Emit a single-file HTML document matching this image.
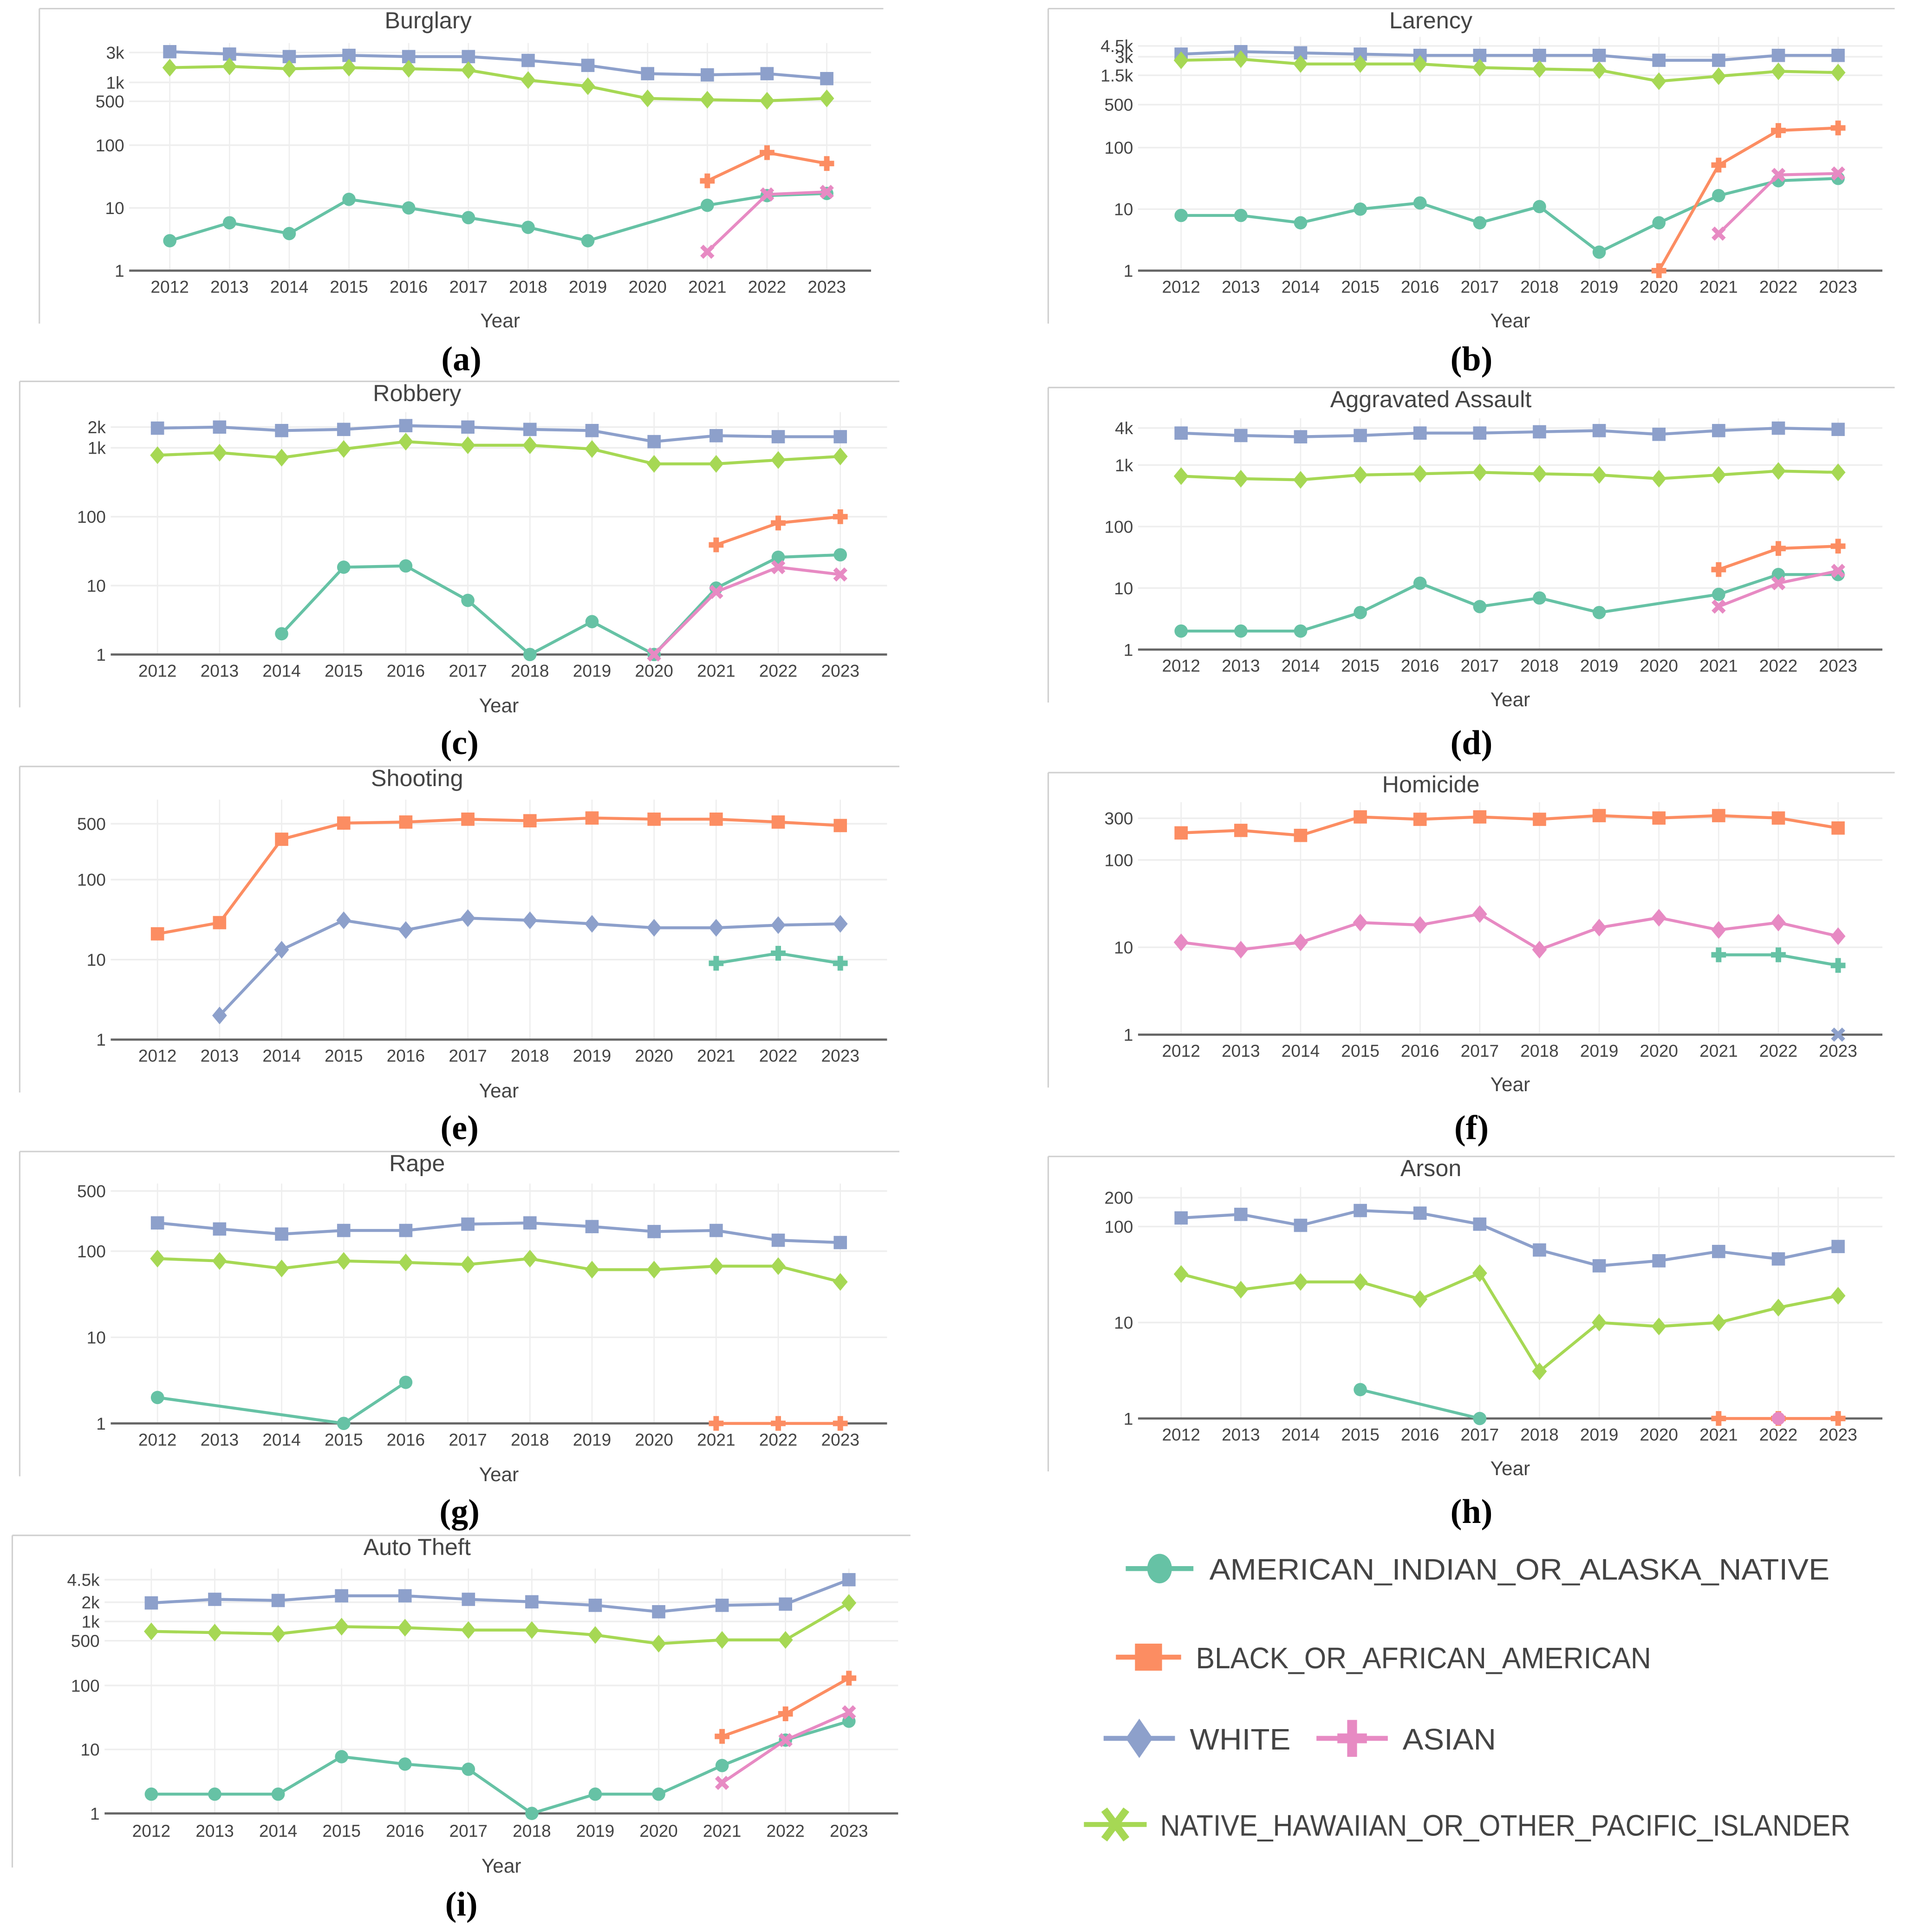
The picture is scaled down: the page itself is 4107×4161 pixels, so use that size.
<!DOCTYPE html>
<html><head><meta charset="utf-8">
<style>
html,body{margin:0;padding:0;background:#fff;}
svg{display:block;}
text{font-family:"Liberation Sans",sans-serif;}
</style></head>
<body>
<svg id="root" width="4107" height="4161" viewBox="0 0 1550 1570.4" preserveAspectRatio="none" xmlns="http://www.w3.org/2000/svg"></svg>
<script>
const years = [2012,2013,2014,2015,2016,2017,2018,2019,2020,2021,2022,2023];
const C = {aian:'#66c2a5', black:'#fc8d62', white:'#8da0cb', asian:'#e78ac3', nhopi:'#a6d854'};
const n = null;
// Burglary
const burglaryWhite = [3090,2830,2580,2700,2580,2580,2240,1870,1380,1320,1380,1150];
const burglaryNhopi = [1720,1800,1650,1720,1650,1570,1090,870,556,530,510,556];
const burglaryAian = [3,5.8,3.9,13.7,10,7,4.9,3,n,11,15.7,17];
const burglaryBlack = [n,n,n,n,n,n,n,n,n,27,76,51];
const burglaryAsian = [n,n,n,n,n,n,n,n,n,2,16.4,18];
// Larceny
const larcenyWhite = [3310,3630,3470,3310,3160,3160,3160,3160,2630,2630,3160,3160];
const larcenyNhopi = [2630,2750,2290,2290,2290,2000,1900,1820,1200,1450,1740,1660];
const larcenyAian = [7.9,7.9,6,10,12.6,6,11,2,6,16.6,29,31.6];
const larcenyBlack = [n,n,n,n,n,n,n,n,1,52,190,209];
const larcenyAsian = [n,n,n,n,n,n,n,n,n,4,36,38];
// Robbery
const robberyWhite = [1930,2000,1780,1850,2100,2000,1850,1780,1230,1500,1450,1450];
const robberyNhopi = [780,850,720,960,1230,1090,1090,960,585,585,665,750];
const robberyAian = [n,n,2,18.5,19.3,6.1,1,3,1,9.2,25.8,28];
const robberyBlack = [n,n,n,n,n,n,n,n,n,39,81,100];
const robberyAsian = [n,n,n,n,n,n,n,n,1,8.1,18.5,14.5];
// Aggravated assault
const assaultWhite = [3310,3020,2880,3020,3310,3310,3470,3630,3160,3630,3980,3800];
const assaultNhopi = [660,600,575,690,720,760,720,690,600,690,800,760];
const assaultAian = [2,2,2,4,12,5,6.9,4,n,7.9,16.6,16.6];
const assaultBlack = [n,n,n,n,n,n,n,n,n,20,44,48];
const assaultAsian = [n,n,n,n,n,n,n,n,n,5,12,19];
// Shooting
const shootingBlack = [21,29,320,510,525,570,545,590,570,570,525,475];
const shootingWhite = [n,2,13.3,31,23.4,33,31,28,25,25,27,28];
const shootingAian = [n,n,n,n,n,n,n,n,n,9,12,9];
// Homicide
const homicideBlack = [204,218,191,311,292,311,292,322,302,322,302,232];
const homicideAsian = [11.4,9.4,11.4,19.2,18,24,9.4,16.8,21.8,15.8,19.2,13.4];
const homicideAian = [n,n,n,n,n,n,n,n,n,8.2,8.2,6.2];
const homicideWhite = [n,n,n,n,n,n,n,n,n,n,n,1];
// Rape
const rapeWhite = [213,181,158,174,174,206,213,193,169,174,134,126];
const rapeNhopi = [82,77,63,77,74,70,82,61,61,67,67,44];
const rapeAian = [2,n,n,1,3,n,n,n,n,n,n,n];
const rapeBlack = [n,n,n,n,n,n,n,n,n,1,1,1];
// Arson
const arsonWhite = [123,134,103,147,138,106,57,39,44,55,46,62];
const arsonNhopi = [32,22,26.5,26.5,17.5,32.7,3.1,10,9.1,10,14.3,19];
const arsonAian = [n,n,n,2,n,1,n,n,n,n,n,n];
const arsonBlack = [n,n,n,n,n,n,n,n,n,1,1,1];
const arsonAsian = [n,n,n,n,n,n,n,n,n,n,1,n];
// Auto theft
const autoWhite = [1950,2220,2130,2520,2520,2220,2030,1790,1420,1790,1870,4500];
const autoNhopi = [700,670,640,830,800,735,735,615,450,515,515,1950];
const autoAian = [2,2,2,7.7,5.9,4.9,1,2,2,5.6,14,27.6];
const autoBlack = [n,n,n,n,n,n,n,n,n,16,36,130];
const autoAsian = [n,n,n,n,n,n,n,n,n,3,14,38];

const tickA = ['1','10','100','500','1k','3k'], tickAv=[1,10,100,500,1000,3000];
const tickB = ['1','10','100','500','1.5k','3k','4.5k'], tickBv=[1,10,100,500,1500,3000,4500];
const tickC = ['1','10','100','1k','2k'], tickCv=[1,10,100,1000,2000];
const tickD = ['1','10','100','1k','4k'], tickDv=[1,10,100,1000,4000];
const tickE = ['1','10','100','500'], tickEv=[1,10,100,500];
const tickF = ['1','10','100','300'], tickFv=[1,10,100,300];
const tickG = ['1','10','100','500'], tickGv=[1,10,100,500];
const tickH = ['1','10','100','200'], tickHv=[1,10,100,200];
const tickI = ['1','10','100','500','1k','2k','4.5k'], tickIv=[1,10,100,500,1000,2000,4500];

const panels = [
 {id:'burglary',title:'Burglary',tx:348,lab:'(a)',box:[32,718,7],ax:[105,708],x0:138,x1:672,y1:220,dec:51,top:35,tick:233,year:260,labY:292,tl:tickA,tv:tickAv,
  series:[[burglaryWhite,'white','square'],[burglaryNhopi,'nhopi','diamond'],[burglaryAian,'aian','circle'],[burglaryBlack,'black','cross'],[burglaryAsian,'asian','x']]},
 {id:'larceny',title:'Larency',tx:1163,lab:'(b)',box:[852,1540,7],ax:[925,1530],x0:960,x1:1494,y1:220,dec:50,top:30,tick:233,year:260,labY:292,tl:tickB,tv:tickBv,
  series:[[larcenyWhite,'white','square'],[larcenyNhopi,'nhopi','diamond'],[larcenyAian,'aian','circle'],[larcenyBlack,'black','cross'],[larcenyAsian,'asian','x']]},
 {id:'robbery',title:'Robbery',tx:339,lab:'(c)',box:[16,731,310],ax:[90,721],x0:128,x1:683,y1:532,dec:56,top:335,tick:545,year:573,labY:604,tl:tickC,tv:tickCv,
  series:[[robberyWhite,'white','square'],[robberyNhopi,'nhopi','diamond'],[robberyAian,'aian','circle'],[robberyBlack,'black','cross'],[robberyAsian,'asian','x']]},
 {id:'aggravated-assault',title:'Aggravated Assault',tx:1163,lab:'(d)',box:[852,1540,315],ax:[925,1530],x0:960,x1:1494,y1:528,dec:50,top:340,tick:541,year:568,labY:604,tl:tickD,tv:tickDv,
  series:[[assaultWhite,'white','square'],[assaultNhopi,'nhopi','diamond'],[assaultAian,'aian','circle'],[assaultBlack,'black','cross'],[assaultAsian,'asian','x']]},
 {id:'shooting',title:'Shooting',tx:339,lab:'(e)',box:[16,731,623],ax:[90,721],x0:128,x1:683,y1:845,dec:65,top:650,tick:858,year:886,labY:917,tl:tickE,tv:tickEv,
  series:[[shootingBlack,'black','square'],[shootingWhite,'white','diamond'],[shootingAian,'aian','cross']]},
 {id:'homicide',title:'Homicide',tx:1163,lab:'(f)',box:[852,1540,628],ax:[925,1530],x0:960,x1:1494,y1:841,dec:71,top:652,tick:854,year:881,labY:917,tl:tickF,tv:tickFv,
  series:[[homicideBlack,'black','square'],[homicideAsian,'asian','diamond'],[homicideAian,'aian','cross'],[homicideWhite,'white','x']]},
 {id:'rape',title:'Rape',tx:339,lab:'(g)',box:[16,731,936],ax:[90,721],x0:128,x1:683,y1:1157,dec:70,top:962,tick:1170,year:1198,labY:1229,tl:tickG,tv:tickGv,
  series:[[rapeWhite,'white','square'],[rapeNhopi,'nhopi','diamond'],[rapeAian,'aian','circle'],[rapeBlack,'black','cross']]},
 {id:'arson',title:'Arson',tx:1163,lab:'(h)',box:[852,1540,940],ax:[925,1530],x0:960,x1:1494,y1:1153,dec:78,top:965,tick:1166,year:1193,labY:1229,tl:tickH,tv:tickHv,
  series:[[arsonWhite,'white','square'],[arsonNhopi,'nhopi','diamond'],[arsonAian,'aian','circle'],[arsonBlack,'black','cross'],[arsonAsian,'asian','circle']]},
 {id:'auto-theft',title:'Auto Theft',tx:339,lab:'(i)',box:[10,740,1248],ax:[85,730],x0:123,x1:690,y1:1474,dec:52,top:1275,tick:1488,year:1516,labY:1548,tl:tickI,tv:tickIv,
  series:[[autoWhite,'white','square'],[autoNhopi,'nhopi','diamond'],[autoAian,'aian','circle'],[autoBlack,'black','cross'],[autoAsian,'asian','x']]}
];

const NS='http://www.w3.org/2000/svg';
const root=document.getElementById('root');
function mk(tag,attrs,parent,txt){const e=document.createElementNS(NS,tag);for(const k in attrs)e.setAttribute(k,attrs[k]);if(txt!=null)e.textContent=txt;parent.appendChild(e);return e;}

function marker(g,type,x,y,col,r){
  let e;
  if(type==='circle') e=mk('circle',{cx:x,cy:y,r:r*0.9,fill:col},g);
  else if(type==='square') e=mk('rect',{x:x-r*0.9,y:y-r*0.9,width:r*1.8,height:r*1.8,fill:col},g);
  else if(type==='diamond') e=mk('path',{d:`M${x},${y-r*1.2}L${x+r},${y}L${x},${y+r*1.2}L${x-r},${y}Z`,fill:col},g);
  else if(type==='cross') e=mk('path',{d:`M${x-r},${y}H${x+r}M${x},${y-r}V${y+r}`,stroke:col,'stroke-width':r*0.75,fill:'none'},g);
  else e=mk('path',{d:`M${x-r*0.75},${y-r*0.75}L${x+r*0.75},${y+r*0.75}M${x+r*0.75},${y-r*0.75}L${x-r*0.75},${y+r*0.75}`,stroke:col,'stroke-width':r*0.6,fill:'none'},g);
  
  
}

panels.forEach(p=>{
  const g=mk('g',{},root);
  
  
  const xs=v=>p.x0+(v-years[0])*(p.x1-p.x0)/(years.length-1);
  const ys=v=>p.y1-Math.log10(v)*p.dec;
  const fr=mk('path',{d:`M${p.box[0]},${p.box[2]}H${p.box[1]}M${p.box[0]},${p.box[2]}V${p.tick+30}`,stroke:'#d0d0d0','stroke-width':1.2,fill:'none'},g);
  
  
  years.forEach(yr=>{
    const l=mk('line',{x1:xs(yr),x2:xs(yr),y1:p.top,y2:p.y1,stroke:'#eeeeee','stroke-width':1},g);
    
    
    const t=mk('text',{x:xs(yr),y:p.tick+5,'font-size':14,fill:'#444','text-anchor':'middle'},g,String(yr));
    
    
  });
  p.tv.forEach((v,i)=>{
    const y=ys(v);
    if(v>1){const l=mk('line',{x1:p.ax[0],x2:p.ax[1],y1:y,y2:y,stroke:'#eeeeee','stroke-width':1.3},g);
      
      }
    const t=mk('text',{x:p.ax[0]-4,y:y+5,'font-size':14,fill:'#444','text-anchor':'end'},g,p.tl[i]);
    
    
  });
  const ax=mk('line',{x1:p.ax[0],x2:p.ax[1],y1:p.y1,y2:p.y1,stroke:'#666','stroke-width':1.8},g);
  
  
  p.series.forEach(([vals,key,mt])=>{
    const col=C[key];
    let d='';
    vals.forEach((v,i)=>{
      if(v==null){return;}
      d+=(d?'L':'M')+xs(years[i])+','+ys(v);
    });
    const path=mk('path',{d:d,stroke:col,'stroke-width':2.4,fill:'none','stroke-linejoin':'round'},g);
    
    
    vals.forEach((v,i)=>{ if(v!=null) marker(g,mt,xs(years[i]),ys(v),col,6); });
  });
  const tt=mk('text',{x:p.tx,y:p.box[2]+16,'font-size':19,fill:'#444','text-anchor':'middle'},g,p.title);
  
  
  const yt=mk('text',{x:(p.ax[0]+p.ax[1])/2,y:p.year+6,'font-size':16,fill:'#444','text-anchor':'middle'},g,'Year');
  
  
  const lb=mk('text',{x:(p.box[0]+p.box[1])/2,y:p.labY+9,fill:'#000','text-anchor':'middle',style:'font-family:"Liberation Serif",serif;font-size:28px;font-weight:bold;'},g,p.lab);
  
  
});

const leg=mk('g',{},root);


const legItems=[
 ['AMERICAN_INDIAN_OR_ALASKA_NATIVE','aian','circle',915,970,1275,983,504],
 ['BLACK_OR_AFRICAN_AMERICAN','black','square',907,960,1347,972,370],
 ['WHITE','white','diamond',897,955,1413,967,82],
 ['ASIAN','asian','cross',1070,1128,1413,1140,76],
 ['NATIVE_HAWAIIAN_OR_OTHER_PACIFIC_ISLANDER','nhopi','x',881,932,1483,943,561]
];
legItems.forEach(([name,key,mt,xa,xb,y,tx,tw])=>{
  const g=mk('g',{},leg);
  
  
  mk('line',{x1:xa,x2:xb,y1:y,y2:y,stroke:C[key],'stroke-width':4},g);
  const cx=(xa+xb)/2;
  if(mt==='circle') mk('ellipse',{cx:cx,cy:y,rx:10,ry:12,fill:C[key]},g);
  else if(mt==='square') mk('rect',{x:cx-11,y:y-11,width:22,height:22,fill:C[key]},g);
  else if(mt==='diamond') mk('path',{d:`M${cx},${y-16}L${cx+11},${y}L${cx},${y+16}L${cx-11},${y}Z`,fill:C[key]},g);
  else if(mt==='cross') mk('path',{d:`M${cx-12},${y}H${cx+12}M${cx},${y-15}V${y+15}`,stroke:C[key],'stroke-width':8,fill:'none'},g);
  else mk('path',{d:`M${cx-9},${y-12}L${cx+9},${y+12}M${cx+9},${y-12}L${cx-9},${y+12}`,stroke:C[key],'stroke-width':6,fill:'none'},g);
  mk('text',{x:tx,y:y+9,'font-size':24,fill:'#444',textLength:tw,lengthAdjust:'spacingAndGlyphs'},g,name);
});
</script>
</body></html>
